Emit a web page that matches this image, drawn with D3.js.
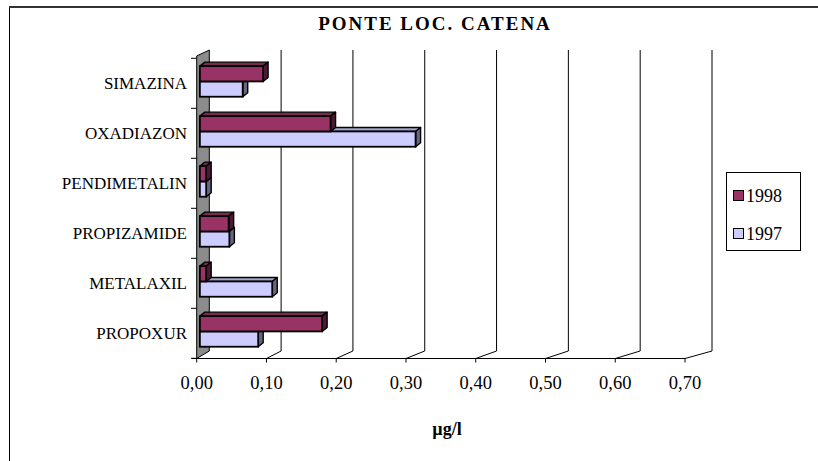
<!DOCTYPE html>
<html>
<head>
<meta charset="utf-8">
<script src="https://cdn.jsdelivr.net/npm/d3@7"></script>
<style>
  body { margin: 0; background: #fff; }
  svg { display: block; }
  text { font-family: "Liberation Serif", "Times New Roman", serif; fill: #000; }
</style>
</head>
<body>
<div id="chart"></div>
<script>
// categories bottom -> top, as the chart plots them
const categories = ["PROPOXUR", "METALAXIL", "PROPIZAMIDE", "PENDIMETALIN", "OXADIAZON", "SIMAZINA"];
const values1998 = [0.174, 0.009, 0.041, 0.009, 0.186, 0.090];
const values1997 = [0.083, 0.103, 0.042, 0.009, 0.307, 0.061];
const xTicks = [0, 0.1, 0.2, 0.3, 0.4, 0.5, 0.6, 0.7];
const seriesNames = ["1998", "1997"];

const W = 818, H = 461;
const colors = { "1998": "#993366", "1997": "#ccccff" };
const sideColors = { "1998": "#4d1a33", "1997": "#666680" };
const topColors = { "1998": "#7a2952", "1997": "#a3a3cc" };

const svg = d3.select("#chart").append("svg").attr("width", W).attr("height", H);

// outer frame (right / bottom edges fall outside the picture)
svg.append("rect").attr("x", 9.5).attr("y", 7.5).attr("width", 900).attr("height", 600)
  .attr("fill", "none").attr("stroke", "#000");
svg.append("line").attr("x1", 9).attr("x2", W).attr("y1", 7).attr("y2", 7)
  .attr("stroke", "#333").attr("stroke-width", 2);

// ---- 3d frame: front plane and back plane ----
const xFront = d3.scaleLinear().domain([0, 0.7]).range([196.7, 685]);
const xBack = d3.scaleLinear().domain([0, 0.7]).range([209.3, 712]);
const yFront = d3.scaleBand().domain(categories).range([358.3, 58.3]).padding(0);
const floorFront = 358.5, floorBack = 351, topBack = 50, topFront = 56;

// bars sit a bit behind the front plane
const depth = 0.25;
const xBar = d3.scaleLinear().domain([0, 0.7])
  .range([xFront(0) + depth * (xBack(0) - xFront(0)), xFront(0.7) + depth * (xBack(0.7) - xFront(0.7))]);
const barDx = 5, barDy = -4, barH = 15.3;

const g = svg.append("g");

// gridlines: floor diagonal + back vertical
xTicks.filter(v => v > 0).forEach(v => {
  g.append("path")
    .attr("d", `M${xFront(v)},${floorFront}L${xBack(v)},${floorBack}L${xBack(v)},${topBack}`)
    .attr("fill", "none").attr("stroke", "#000").attr("stroke-width", 1);
});

// left wall
g.append("path")
  .attr("d", `M${xFront(0)},${topFront}L${xBack(0)},${topBack}L${xBack(0)},${floorBack}L${xFront(0)},${floorFront}Z`)
  .attr("fill", "#8c8c8c").attr("stroke", "#000").attr("stroke-width", 1);

// front axis line and ticks
g.append("line").attr("x1", 192).attr("x2", xFront(0.7)).attr("y1", floorFront).attr("y2", floorFront)
  .attr("stroke", "#000");
g.selectAll(".xtick").data(xTicks).join("line")
  .attr("x1", d => xFront(d)).attr("x2", d => xFront(d))
  .attr("y1", floorFront).attr("y2", floorFront + 4)
  .attr("stroke", "#000");
g.selectAll(".xlabel").data(xTicks).join("text")
  .attr("x", d => xFront(d)).attr("y", 389)
  .attr("text-anchor", "middle").attr("font-size", 18.5)
  .text(d => d3.format(".2f")(d).replace(".", ","));

// category ticks and labels
const bounds = categories.map(c => yFront(c)).concat([yFront(categories[0]) + yFront.bandwidth()]);
g.selectAll(".ytick").data(bounds).join("line")
  .attr("x1", 191).attr("x2", xFront(0)).attr("y1", d => d).attr("y2", d => d)
  .attr("stroke", "#000");
g.selectAll(".ylabel").data(categories).join("text")
  .attr("x", 187).attr("y", d => yFront(d) + yFront.bandwidth() / 2 + 6)
  .attr("text-anchor", "end").attr("font-size", 17)
  .text(d => d);

// ---- bars ----
function drawBar(name, v, yTop) {
  const x0 = xBar(0), x1 = xBar(v), yb = yTop + barH;
  const bar = g.append("g");
  bar.append("path")
    .attr("d", `M${x0},${yTop}L${x0 + barDx},${yTop + barDy}L${x1 + barDx},${yTop + barDy}L${x1},${yTop}Z`)
    .attr("fill", topColors[name]).attr("stroke", "#000").attr("stroke-width", 1.4).attr("stroke-linejoin", "round");
  bar.append("path")
    .attr("d", `M${x1},${yTop}L${x1 + barDx},${yTop + barDy}L${x1 + barDx},${yb + barDy}L${x1},${yb}Z`)
    .attr("fill", sideColors[name]).attr("stroke", "#000").attr("stroke-width", 1.4).attr("stroke-linejoin", "round");
  bar.append("rect")
    .attr("x", x0).attr("y", yTop).attr("width", x1 - x0).attr("height", barH)
    .attr("fill", colors[name]).attr("stroke", "#000").attr("stroke-width", 1.8);
}

categories.slice().reverse().forEach(c => {
  const i = categories.indexOf(c);
  const mid = yFront(c) + yFront.bandwidth() / 2 - depth * (floorFront - floorBack);
  drawBar("1997", values1997[i], mid);
  drawBar("1998", values1998[i], mid - barH);
});

// title
svg.append("text").attr("x", 435).attr("y", 29.5).attr("text-anchor", "middle")
  .attr("font-size", 19).attr("font-weight", "bold").attr("letter-spacing", 2)
  .text("PONTE LOC. CATENA");

// axis title
svg.append("text").attr("x", 447).attr("y", 435).attr("text-anchor", "middle")
  .attr("font-size", 18).attr("font-weight", "bold")
  .text("µg/l");

// legend
const lg = svg.append("g").attr("transform", "translate(726,172)");
lg.append("rect").attr("x", 0.5).attr("y", 0.5).attr("width", 74).attr("height", 78)
  .attr("fill", "#fff").attr("stroke", "#000");
seriesNames.forEach((s, i) => {
  lg.append("rect").attr("x", 7.5).attr("y", 18.5 + i * 38).attr("width", 10).attr("height", 10)
    .attr("fill", colors[s]).attr("stroke", "#000");
  lg.append("text").attr("x", 20).attr("y", 30 + i * 38).attr("font-size", 18).text(s);
});
</script>
</body>
</html>
